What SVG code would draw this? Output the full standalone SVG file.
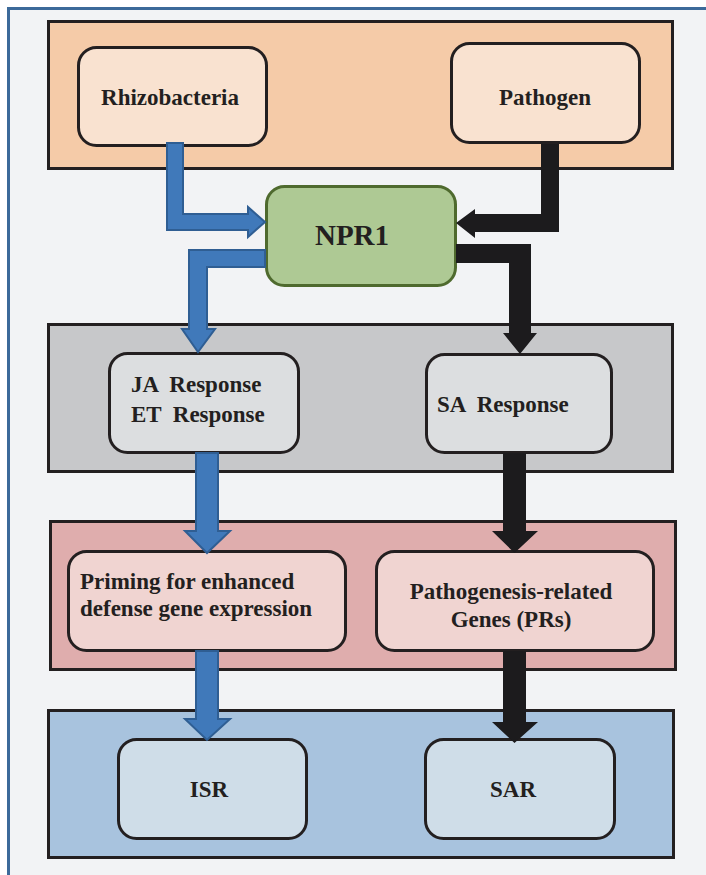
<svg xmlns="http://www.w3.org/2000/svg" width="706" height="875" viewBox="0 0 706 875">
<style>
.band{stroke:#231f20;stroke-width:3}
.box{stroke:#231f20;stroke-width:3}
.t{font-family:'Liberation Serif','Times New Roman',serif;font-weight:bold;font-size:23px;fill:#231f20;white-space:pre}
.c{text-anchor:middle}
.blue{fill:#4079ba;stroke:#2f5e93;stroke-width:2;stroke-linejoin:miter}
.black{fill:#1c1b1d}
</style>
<rect x="0" y="0" width="706" height="875" fill="#ffffff"/>
<rect x="8.5" y="8.5" width="720" height="900" fill="#f2f3f5" stroke="#3c6a9a" stroke-width="3"/>
<g id="band-top"><rect class="band" x="48.5" y="21.5" width="624" height="147" fill="#f5cba8"/></g>
<g id="band-response"><rect class="band" x="48.5" y="324.5" width="624" height="147" fill="#c7c8ca"/></g>
<g id="band-genes"><rect class="band" x="50.5" y="521.5" width="625" height="148" fill="#dfadad"/></g>
<g id="band-resistance"><rect class="band" x="48.5" y="710.5" width="625" height="147" fill="#a8c3de"/></g>

<g id="rhizobacteria"><rect class="box" x="78.5" y="47.5" width="188" height="98" rx="18" fill="#f9e2d0"/><text class="t c" x="170" y="105">Rhizobacteria</text></g>
<g id="pathogen"><rect class="box" x="451.5" y="43.5" width="188" height="99" rx="18" fill="#f9e2d0"/><text class="t c" x="545" y="105">Pathogen</text></g>
<g id="npr1"><rect x="266.5" y="186.5" width="189" height="99" rx="18" fill="#aec994" stroke="#4f6a2e" stroke-width="3"/><text class="t c" x="352" y="245" style="font-size:29px">NPR1</text></g>
<g id="ja-et"><rect class="box" x="109.5" y="353.5" width="189" height="99" rx="18" fill="#dcdee0"/><text class="t" x="131" y="392" xml:space="preserve">JA  Response</text><text class="t" x="131" y="422" xml:space="preserve">ET  Response</text></g>
<g id="sa"><rect class="box" x="426.5" y="354.5" width="185" height="98" rx="18" fill="#dcdee0"/><text class="t" x="437" y="412" xml:space="preserve">SA  Response</text></g>
<g id="priming"><rect class="box" x="68.5" y="551.5" width="277" height="99" rx="18" fill="#f0d4d1"/><text class="t" x="80" y="589">Priming for enhanced</text><text class="t" x="80" y="616">defense gene expression</text></g>
<g id="prs"><rect class="box" x="376.5" y="551.5" width="277" height="99" rx="18" fill="#f0d4d1"/><text class="t c" x="511" y="599">Pathogenesis-related</text><text class="t c" x="511" y="627">Genes (PRs)</text></g>
<g id="isr"><rect class="box" x="118.5" y="739.5" width="188" height="99" rx="18" fill="#cfdde8"/><text class="t c" x="209" y="797">ISR</text></g>
<g id="sar"><rect class="box" x="425.5" y="739.5" width="189" height="99" rx="18" fill="#cfdde8"/><text class="t c" x="513" y="797">SAR</text></g>

<g id="connectors">
<polygon class="blue" points="167,143 183,143 183,214 248,214 248,207 265,222 248,237 248,230 167,230"/>
<polygon class="blue" points="265,250 189,250 189,329 182,329 198,352 215,329 207,329 207,267 265,267"/>
<polygon class="black" points="541,144 559,144 559,232 475,232 475,238 456,223 475,209 475,214 541,214"/>
<polygon class="black" points="456,244 531,244 531,333 537,333 520,354 503,333 509,333 509,263 456,263"/>
<polygon class="blue" points="196,453 218,453 218,531 230,531 207,553 185,531 196,531"/>
<polygon class="black" points="503,453 526,453 526,531 538,531 514.5,553 492,531 503,531"/>
<polygon class="blue" points="196,651 218,651 218,719 230,719 207,740 185,719 196,719"/>
<polygon class="black" points="503,651 526,651 526,722 538,722 514.5,743 492,722 503,722"/>
</g>
</svg>
